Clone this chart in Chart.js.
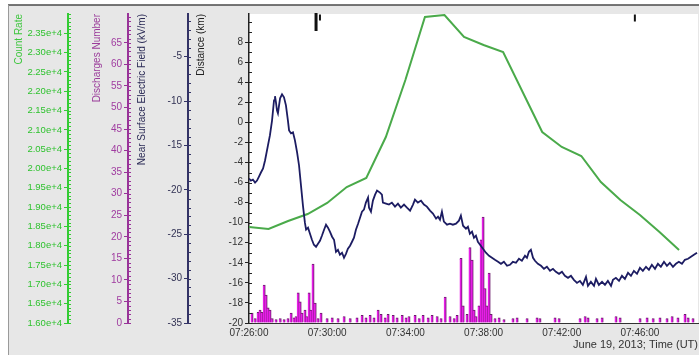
<!DOCTYPE html>
<html>
<head>
<meta charset="utf-8">
<script src="https://cdn.jsdelivr.net/npm/chart.js@4.4.1/dist/chart.umd.min.js"></script>
<style>
html,body{margin:0;padding:0;background:#fff;}
#wrap{width:699px;height:355px;position:relative;}
</style>
</head>
<body>
<div id="wrap"><canvas id="c" width="699" height="355"></canvas></div>
<script>
// ---- data (time in minutes after 07:26:00 UT) ----
const xTickMinutes = [0, 4, 8, 12, 16, 20];
const efTicks = [-20, -18, -16, -14, -12, -10, -8, -6, -4, -2, 0, 2, 4, 6, 8];
const distTicks = [-35, -30, -25, -20, -15, -10, -5];
const dischargeTicks = [0, 5, 10, 15, 20, 25, 30, 35, 40, 45, 50, 55, 60, 65];
const countTicks = [16000, 16500, 17000, 17500, 18000, 18500, 19000, 19500, 20000, 20500, 21000, 21500, 22000, 22500, 23000, 23500];

const countTimes = [0, 1, 2, 3, 4, 5, 6, 7, 8, 9, 10, 11, 12, 13, 15, 16, 17, 18, 19, 20, 21, 22];
const countValues = [18485, 18434, 18641, 18822, 19107, 19521, 19754, 20815, 22291, 23922, 23974, 23405, 23197, 23016, 20945, 20557, 20324, 19650, 19184, 18796, 18356, 17890];

const efTimes = [0.00,0.10,0.20,0.31,0.41,0.51,0.61,0.72,0.82,0.97,1.07,1.18,1.28,1.33,1.38,1.43,1.48,1.53,1.59,1.69,1.79,1.89,1.99,2.05,2.15,2.25,2.35,2.46,2.56,2.66,2.76,2.86,2.92,3.02,3.12,3.22,3.32,3.43,3.53,3.63,3.73,3.84,3.94,4.04,4.14,4.25,4.35,4.45,4.55,4.65,4.76,4.86,4.96,5.06,5.17,5.27,5.37,5.47,5.58,5.68,5.78,5.88,5.98,6.09,6.14,6.24,6.34,6.45,6.55,6.70,6.80,6.85,7.01,7.16,7.31,7.47,7.62,7.77,7.93,8.08,8.24,8.39,8.49,8.64,8.80,8.95,9.10,9.26,9.41,9.57,9.67,9.77,9.87,9.97,10.13,10.28,10.43,10.59,10.74,10.84,10.95,11.10,11.20,11.30,11.41,11.51,11.61,11.71,11.82,11.97,12.12,12.28,12.43,12.58,12.74,12.89,13.04,13.20,13.35,13.50,13.66,13.81,13.96,14.12,14.22,14.32,14.42,14.53,14.63,14.78,14.94,15.09,15.24,15.40,15.55,15.70,15.86,16.01,16.16,16.32,16.47,16.62,16.78,16.93,17.08,17.24,17.34,17.49,17.65,17.75,17.90,18.06,18.21,18.36,18.52,18.62,18.77,18.93,19.08,19.23,19.39,19.54,19.69,19.85,20.00,20.15,20.31,20.46,20.61,20.77,20.92,21.07,21.23,21.38,21.53,21.69,21.84,21.99,22.15,22.30,22.46,22.61,22.76,22.92];
const efValues = [-5.6,-5.8,-5.7,-6.0,-5.8,-5.4,-5.0,-4.6,-3.8,-2.3,-1.3,0.2,2.2,2.6,2.0,1.2,0.9,1.6,2.4,2.8,2.5,1.7,0.2,-0.8,-1.1,-1.0,-1.8,-3.0,-4.3,-6.3,-8.3,-10.0,-10.7,-10.5,-11.1,-11.7,-12.2,-12.4,-12.1,-11.8,-11.3,-10.7,-10.2,-10.5,-10.9,-11.4,-11.7,-12.9,-12.7,-13.2,-13.0,-13.5,-13.1,-12.6,-12.3,-11.9,-11.5,-10.7,-10.1,-9.5,-8.9,-8.7,-8.0,-7.5,-8.5,-8.9,-7.8,-7.2,-6.8,-7.0,-7.2,-8.0,-8.1,-8.2,-8.0,-8.4,-8.1,-8.5,-8.2,-8.5,-8.8,-8.2,-7.7,-8.0,-7.8,-8.2,-8.4,-8.8,-9.1,-9.6,-9.4,-9.7,-8.9,-9.9,-10.2,-10.1,-10.2,-10.1,-9.8,-9.3,-10.3,-10.6,-10.4,-11.1,-10.9,-11.5,-11.3,-11.9,-12.2,-12.6,-13.0,-13.3,-13.5,-13.7,-13.9,-14.1,-13.9,-14.3,-14.2,-13.9,-14.0,-13.6,-13.8,-13.3,-13.5,-12.9,-12.7,-13.5,-13.8,-14.1,-14.3,-14.6,-14.4,-14.8,-14.6,-14.9,-15.1,-14.9,-15.3,-15.5,-15.3,-15.7,-16.0,-15.8,-16.2,-15.4,-16.3,-15.9,-16.3,-15.6,-16.2,-15.9,-16.2,-15.8,-16.3,-15.7,-15.5,-15.8,-15.3,-15.6,-15.0,-15.3,-14.8,-15.1,-14.5,-14.8,-14.4,-14.7,-14.2,-14.6,-14.1,-14.4,-13.9,-14.3,-14.0,-14.4,-14.1,-13.9,-14.1,-13.7,-13.6,-13.4,-13.2,-13.0];

const dischargeTimes = [0.15,0.31,0.46,0.56,0.66,0.77,0.87,0.97,1.07,1.18,1.38,1.59,1.79,1.99,2.15,2.30,2.40,2.51,2.61,2.71,2.86,2.97,3.07,3.17,3.27,3.38,3.53,3.68,3.99,4.25,4.55,4.86,5.17,5.52,5.78,5.98,6.19,6.39,6.60,6.75,6.96,7.11,7.37,7.57,7.83,8.03,8.18,8.49,8.70,8.90,9.16,9.36,9.62,9.82,10.03,10.28,10.49,10.64,10.84,10.95,11.15,11.30,11.41,11.51,11.61,11.76,11.87,11.97,12.07,12.17,12.28,12.38,12.58,12.79,13.04,13.50,13.71,14.22,14.73,14.88,15.65,15.86,16.93,17.19,17.34,17.80,18.06,18.77,18.98,20.00,20.36,20.67,21.02,21.38,21.64,21.94,22.30,22.46,22.71];
const dischargeCounts = [2.3,1.0,2.5,3.0,2.5,8.8,6.5,3.5,3.0,1.0,0.8,1.0,0.8,1.0,2.3,1.2,1.5,7.0,4.9,2.3,3.0,1.5,7.0,3.0,13.7,4.6,1.0,2.3,1.0,1.2,1.0,1.5,1.0,1.2,1.8,1.2,1.8,1.2,3.0,2.0,1.2,2.0,1.8,1.2,1.8,1.2,1.5,1.8,1.0,1.8,1.2,1.8,1.5,1.0,6.0,1.5,1.0,1.8,15.0,4.0,2.0,17.5,14.6,3.0,1.5,4.0,19.3,24.6,8.0,4.0,11.6,2.0,1.0,1.2,0.8,1.0,1.2,1.0,1.2,1.0,1.2,1.0,1.0,1.5,1.2,1.0,1.2,1.5,1.2,1.0,1.2,1.0,1.2,1.0,1.5,1.2,2.0,1.2,1.0];

const markerTimes = [3.43, 3.63, 19.74];
const markerLevels = [10.0, 10.45, 10.4];

// ---- helpers / styles ----
const FONT = "'Liberation Sans', Arial, sans-serif";
const toXY = (xs, ys) => xs.map((x, i) => ({ x: x, y: ys[i] }));
const fixTicks = (vals) => (scale) => { scale.ticks = vals.map(v => ({ value: v })); };
const fixWidth = (w) => (scale) => { scale.width = w; scale.paddingTop = 0; scale.paddingBottom = 0; };

const bgPlugin = {
  id: 'bg',
  beforeDraw(chart) {
    const c = chart.ctx, W = chart.width, H = chart.height, a = chart.chartArea;
    c.save();
    c.fillStyle = '#ffffff'; c.fillRect(0, 0, W, H);
    c.fillStyle = '#e7e7e7'; c.fillRect(8, 5, W - 8, H - 5);
    c.fillStyle = '#ffffff'; c.fillRect(a.left, a.top, a.right - a.left, a.bottom - a.top);
    c.strokeStyle = '#4a4a4a'; c.lineWidth = 1.5;
    c.beginPath(); c.moveTo(8, 5); c.lineTo(W, 5); c.stroke();
    c.strokeStyle = '#9a9a9a'; c.lineWidth = 1;
    c.beginPath(); c.moveTo(8.5, 5); c.lineTo(8.5, H); c.stroke();
    c.restore();
  }
};

const minorCfg = {
  yCount: { from: 16000, to: 24000, step: 100, color: '#33cc33', len: 3 },
  yDis: { from: 0, to: 71, step: 1, color: '#993399', len: 3 },
  yDist: { from: -35, to: -1, step: 1, color: '#333366', len: 3 },
  yEF: { from: -20, to: 10, step: 1, color: '#222', len: 3 }
};
const minorPlugin = {
  id: 'minor',
  afterDraw(chart) {
    const c = chart.ctx;
    for (const id in minorCfg) {
      const s = chart.scales[id], m = minorCfg[id];
      c.save(); c.strokeStyle = m.color; c.lineWidth = 1; c.beginPath();
      for (let v = m.from; v <= m.to + 1e-9; v += m.step) {
        const y = Math.round(s.getPixelForValue(v)) + 0.5;
        c.moveTo(s.right, y); c.lineTo(s.right + m.len, y);
      }
      c.stroke(); c.restore();
    }
  }
};

function yAxis(opts) {
  return {
    type: 'linear', position: 'left', weight: opts.weight,
    min: opts.min, max: opts.max,
    afterBuildTicks: fixTicks(opts.ticks),
    afterFit: fixWidth(opts.width),
    border: { display: true, color: opts.axisColor, width: opts.axisWidth },
    grid: { drawOnChartArea: false, drawTicks: true, tickLength: 4, tickColor: opts.axisColor, tickWidth: 1 },
    ticks: { autoSkip: false, padding: 2, color: opts.labelColor, font: { family: FONT, size: opts.labelSize || 10 }, callback: opts.fmt || (v => String(v)) },
    title: { display: true, text: opts.title, color: opts.titleColor, align: 'end', font: { family: FONT, size: 10 }, padding: { top: opts.titlePad, bottom: 0 } }
  };
}

new Chart(document.getElementById('c'), {
  type: 'line',
  data: {
    datasets: [
      {
        type: 'line', label: 'Near Surface Electric Field', data: toXY(efTimes, efValues),
        xAxisID: 'x', yAxisID: 'yEF', borderColor: '#1c1c62', borderWidth: 1.8,
        pointRadius: 0, tension: 0, order: 1
      },
      {
        type: 'line', label: 'Count Rate', data: toXY(countTimes, countValues),
        xAxisID: 'x', yAxisID: 'yCount', borderColor: '#4aaa4a', borderWidth: 2,
        pointRadius: 0, tension: 0, order: 2
      },
      {
        type: 'bar', label: 'Discharges Number', data: toXY(dischargeTimes, dischargeCounts),
        xAxisID: 'x', yAxisID: 'yDis', backgroundColor: '#e61ee6', borderColor: '#6a1d6a',
        borderWidth: { top: 1, left: 0, right: 1, bottom: 0 }, borderSkipped: false,
        barThickness: 2.5, order: 3
      },
      {
        type: 'line', label: 'markers', data: toXY(markerTimes, markerLevels),
        xAxisID: 'x', yAxisID: 'yEF', showLine: false, pointStyle: 'line', rotation: 90,
        pointRadius: [9, 3, 3.5], pointBorderWidth: [3, 2, 2], borderColor: '#111', backgroundColor: '#111',
        clip: false, order: 0
      }
    ]
  },
  options: {
    responsive: false, animation: false,
    layout: { autoPadding: false, padding: { left: 8, top: 14, right: 1, bottom: 0 } },
    plugins: { legend: { display: false }, tooltip: { enabled: false } },
    scales: {
      x: {
        type: 'linear', position: 'bottom', min: 0, max: 22.97, offset: false,
        afterBuildTicks: fixTicks(xTickMinutes),
        afterFit: (s) => { s.height = 32; s.paddingLeft = 0; s.paddingRight = 0; },
        border: { display: true, color: '#333', width: 1 },
        grid: { drawOnChartArea: false, drawTicks: false },
        ticks: { autoSkip: false, maxRotation: 0, padding: 4, color: '#333', font: { family: FONT, size: 10 },
          callback: v => '07:' + String(26 + v).padStart(2, '0') + ':00' },
        title: { display: true, text: 'June 19, 2013; Time (UT)', align: 'end', color: '#333',
          font: { family: FONT, size: 11 }, padding: { top: 0, bottom: 3 } }
      },
      yEF: yAxis({ weight: 0, width: 61, min: -20, max: 10.8, ticks: efTicks, axisColor: '#222', axisWidth: 1.5,
        labelColor: '#333', title: 'Near Surface Electric Field (kV/m)', titleColor: '#2a2a55', titlePad: -51.5 }),
      yDist: yAxis({ weight: 1, width: 60, min: -35, max: -0.2, ticks: distTicks, axisColor: '#333366', axisWidth: 2,
        labelColor: '#333355', title: 'Distance (km)', titleColor: '#222', titlePad: 67.5 }),
      yDis: yAxis({ weight: 2, width: 60, min: 0, max: 71.7, ticks: dischargeTicks, axisColor: '#993399', axisWidth: 2,
        labelColor: '#a03ca0', title: 'Discharges Number', titleColor: '#9b3d9b', titlePad: 23.5 }),
      yCount: yAxis({ weight: 3, width: 60, min: 16000, max: 24000, ticks: countTicks, axisColor: '#33cc33', axisWidth: 2,
        labelColor: '#2fc22f', labelSize: 9.5, title: 'Count Rate', titleColor: '#3ec63e', titlePad: 5,
        fmt: v => (v / 10000).toFixed(2) + 'e+4' })
    }
  },
  plugins: [bgPlugin, minorPlugin]
});
</script>
</body>
</html>
